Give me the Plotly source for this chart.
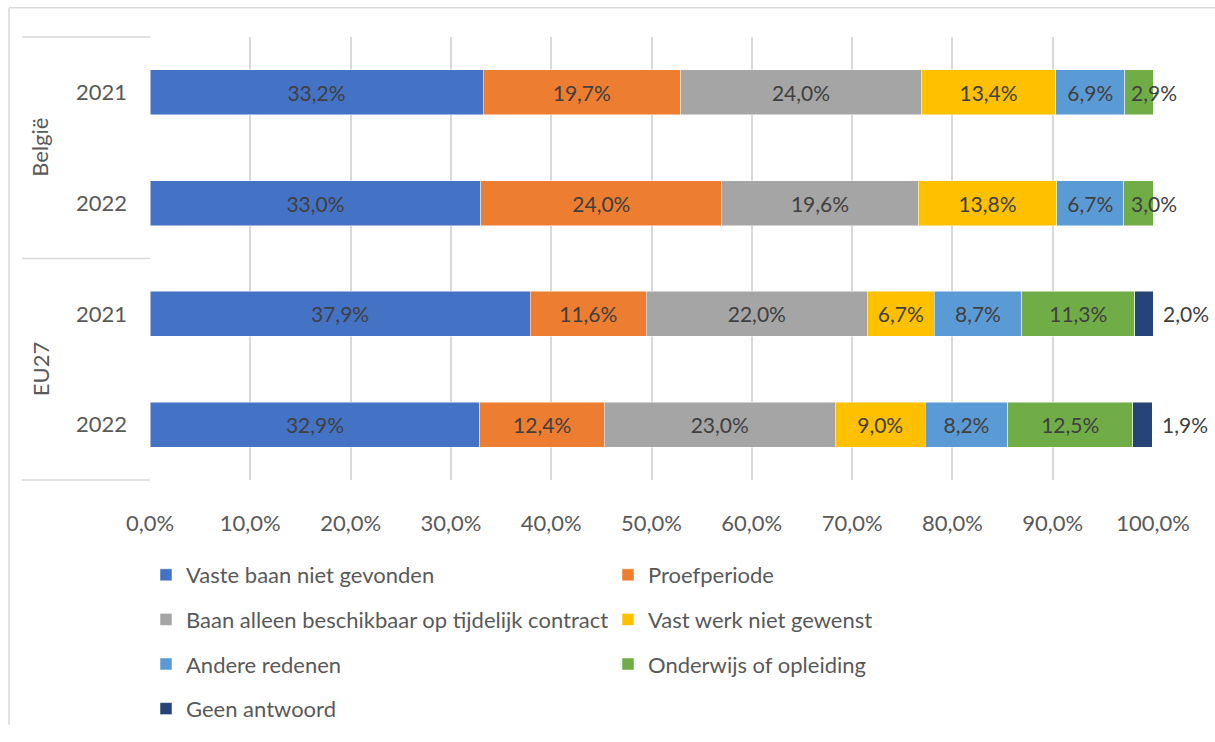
import plotly.graph_objects as go

# Categories: region / year per stacked bar
regions = ["België", "België", "EU27", "EU27"]
years = ["2021", "2022", "2021", "2022"]

# Share of each reason (%), per bar, in the order above
series_names = [
    "Vaste baan niet gevonden",
    "Proefperiode",
    "Baan alleen beschikbaar op tijdelijk contract",
    "Vast werk niet gewenst",
    "Andere redenen",
    "Onderwijs of opleiding",
    "Geen antwoord",
]
vaste_baan = [33.2, 33.0, 37.9, 32.9]
proefperiode = [19.7, 24.0, 11.6, 12.4]
tijdelijk_contract = [24.0, 19.6, 22.0, 23.0]
niet_gewenst = [13.4, 13.8, 6.7, 9.0]
andere = [6.9, 6.7, 8.7, 8.2]
onderwijs = [2.9, 3.0, 11.3, 12.5]
geen_antwoord = [None, None, 2.0, 1.9]

series_values = [vaste_baan, proefperiode, tijdelijk_contract, niet_gewenst,
                 andere, onderwijs, geen_antwoord]
colors = ["#4472C4", "#ED7D31", "#A5A5A5", "#FFC000", "#5B9BD5", "#70AD47", "#264478"]

x_ticks = [0, 10, 20, 30, 40, 50, 60, 70, 80, 90, 100]
x_ticktext = ["0,0%", "10,0%", "20,0%", "30,0%", "40,0%", "50,0%",
              "60,0%", "70,0%", "80,0%", "90,0%", "100,0%"]

FONT = "Lato"
FS = 22
LABEL_FS = 21
LABEL_COLOR = "#404040"
AXIS_COLOR = "#595959"
LINE_COLOR = "#D9D9D9"
X_MAX = 100
NARROW = 5  # segments below this share get their label at the stack end

# plot area in pixels (for placing decorations in paper coords)
W, H = 1215, 742
L, R, T, B = 150, 62, 37, 250
PW, PH = W - L - R, H - T - B


def px_x(px):
    return (px - L) / PW


def px_y(py):
    return (H - B - py) / PH


y_cats = [f"{r} {y}" for r, y in zip(regions, years)]
stack_ends = [sum(s[k] or 0 for s in series_values) for k in range(len(y_cats))]


def fmt(v):
    return "" if v is None else f"{v:.1f}".replace(".", ",") + "%"


fig = go.Figure()
n_series = len(series_names)
for i, (name, vals, col) in enumerate(zip(series_names, series_values, colors)):
    last = i == n_series - 1
    labels = [] if last else [fmt(v) if (v is not None and v >= NARROW) else "" for v in vals]
    fig.add_trace(go.Bar(
        name=name,
        y=y_cats,
        x=vals,
        orientation="h",
        marker=dict(color=col, line=dict(color="rgba(255,255,255,0.6)", width=0.8)),
        text=labels if labels else None,
        textposition="inside",
        insidetextanchor="middle",
        constraintext="none",
        textangle=0,
        cliponaxis=False,
        insidetextfont=dict(family=FONT, size=LABEL_FS, color=LABEL_COLOR),
        hoverinfo="skip",
        legend="legend" if i % 2 == 0 else "legend2",
        legendgroup=name,
    ))

shapes = []
# outer chart frame (left and top edges)
shapes.append(dict(type="line", xref="paper", yref="paper",
                   x0=px_x(9), x1=px_x(1216), y0=px_y(7), y1=px_y(7),
                   line=dict(color=LINE_COLOR, width=1.5)))
shapes.append(dict(type="line", xref="paper", yref="paper",
                   x0=px_x(9), x1=px_x(9), y0=px_y(7), y1=px_y(743),
                   line=dict(color=LINE_COLOR, width=1.5)))
# category box: top, group separator, bottom
for yy in (0.0, 0.5, 1.0):
    shapes.append(dict(type="line", xref="paper", yref="paper",
                       x0=px_x(22), x1=0, y0=yy, y1=yy,
                       line=dict(color=LINE_COLOR, width=1.5)))

annotations = []
# group labels, rotated, centred on each region's pair of bars
group_names = list(dict.fromkeys(regions))
for gi, g in enumerate(group_names):
    annotations.append(dict(
        xref="paper", yref="paper", x=px_x(40), y=1 - (gi + 0.5) / len(group_names),
        text=g, textangle=-90, showarrow=False,
        font=dict(family=FONT, size=FS, color=AXIS_COLOR),
        xanchor="center", yanchor="middle",
    ))

# narrow inner segments: label centred on the stack end
# (x given as a fraction of the axis so labels past 100% stay visible)
for i, vals in enumerate(series_values[:-1]):
    for k, v in enumerate(vals):
        if v is not None and v < NARROW:
            annotations.append(dict(
                xref="paper", yref="y", x=stack_ends[k] / X_MAX, y=y_cats[k],
                text=fmt(v), showarrow=False, xanchor="center",
                font=dict(family=FONT, size=LABEL_FS, color=LABEL_COLOR),
            ))

# "Geen antwoord" labels, placed just right of each stack's end
for k, v in enumerate(geen_antwoord):
    if v is None:
        continue
    annotations.append(dict(
        xref="paper", yref="y", x=min(stack_ends[k], X_MAX) / X_MAX, y=y_cats[k],
        text=fmt(v), showarrow=False, xanchor="left", xshift=8,
        font=dict(family=FONT, size=LABEL_FS, color=LABEL_COLOR),
    ))

legend_common = dict(
    orientation="v", yanchor="top", xanchor="left",
    font=dict(family=FONT, size=FS, color=AXIS_COLOR),
    traceorder="grouped", tracegroupgap=13,
    bgcolor="rgba(0,0,0,0)", itemclick=False, itemdoubleclick=False,
)

fig.update_layout(
    width=W, height=H,
    margin=dict(l=L, r=R, t=T, b=B),
    paper_bgcolor="white", plot_bgcolor="white",
    barmode="stack",
    bargap=0.595,
    font=dict(family=FONT, size=FS, color=AXIS_COLOR),
    xaxis=dict(
        range=[0, X_MAX], tickvals=x_ticks, ticktext=x_ticktext,
        showgrid=True, gridcolor=LINE_COLOR, gridwidth=1.5,
        zeroline=False, showline=False, ticks="",
        ticklabelstandoff=28,
        tickfont=dict(family=FONT, size=FS, color=AXIS_COLOR),
        fixedrange=True,
    ),
    yaxis=dict(
        type="category", categoryorder="array", categoryarray=y_cats,
        autorange="reversed",
        tickvals=y_cats, ticktext=years,
        showgrid=False, zeroline=False, showline=False, ticks="",
        ticklabelstandoff=22,
        tickfont=dict(family=FONT, size=FS, color=AXIS_COLOR),
        fixedrange=True,
    ),
    legend=dict(x=px_x(146), y=px_y(568), **legend_common),
    legend2=dict(x=px_x(608), y=px_y(568), **legend_common),
    shapes=shapes,
    annotations=annotations,
    showlegend=True,
)

fig.write_html("out.html", config={"displayModeBar": False})
